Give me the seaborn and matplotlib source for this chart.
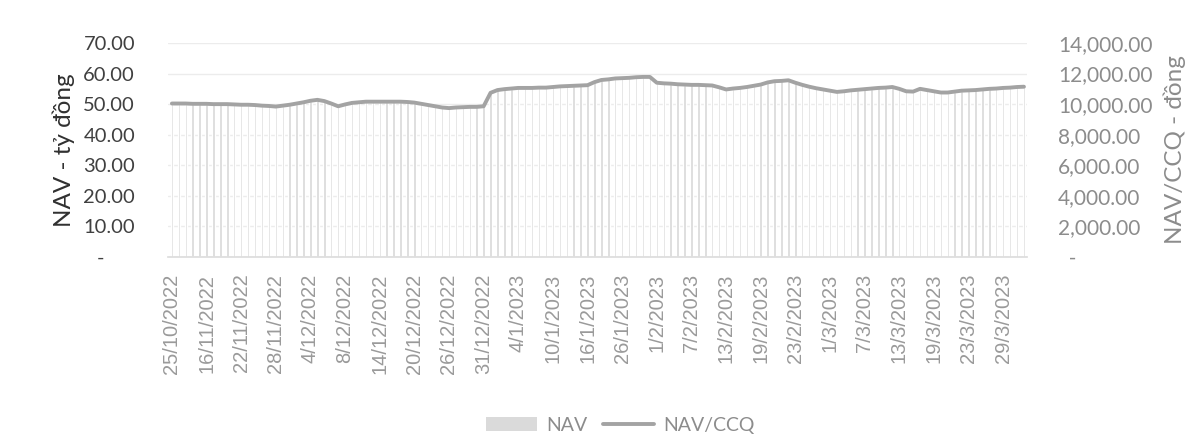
import numpy as np
import pandas as pd
import seaborn as sns
import matplotlib.pyplot as plt
from matplotlib.ticker import FuncFormatter
from matplotlib.patches import Patch
from matplotlib.lines import Line2D

# NAV (tỷ đồng) theo ngày
nav = [50.2, 50.2, 50.2, 50.1, 50.1, 50.1, 50.0, 50.0, 50.0, 49.9,
       49.8, 49.8, 49.7, 49.5, 49.4, 49.2, 49.5, 49.8, 50.2, 50.6,
       51.1, 51.4, 51.0, 50.2, 49.3, 49.9, 50.4, 50.6, 50.8, 50.8,
       50.8, 50.8, 50.8, 50.8, 50.7, 50.5, 50.1, 49.7, 49.3, 48.9,
       48.7, 48.9, 49.0, 49.1, 49.1, 49.3, 53.7, 54.6, 54.9, 55.1,
       55.3, 55.3, 55.3, 55.4, 55.4, 55.6, 55.8, 55.9, 56.0, 56.1,
       56.2, 57.2, 57.9, 58.1, 58.4, 58.5, 58.6, 58.8, 58.9, 58.9,
       57.0, 56.8, 56.7, 56.5, 56.4, 56.3, 56.3, 56.2, 56.1, 55.5,
       54.8, 55.1, 55.3, 55.6, 56.0, 56.4, 57.1, 57.5, 57.6, 57.8,
       57.0, 56.3, 55.7, 55.2, 54.8, 54.4, 54.0, 54.2, 54.5, 54.7,
       54.9, 55.1, 55.3, 55.4, 55.6, 55.0, 54.2, 54.1, 55.0, 54.6,
       54.2, 53.8, 53.8, 54.1, 54.4, 54.5, 54.6, 54.8, 55.0, 55.1,
       55.3, 55.4, 55.6, 55.7]

# NAV/CCQ (đồng)
nav_ccq = [10040, 10040, 10040, 10020, 10020, 10020, 10000, 10000, 10000, 9980,
           9960, 9960, 9940, 9900, 9880, 9840, 9900, 9960, 10040, 10120,
           10220, 10280, 10200, 10040, 9860, 9980, 10080, 10120, 10160, 10160,
           10160, 10160, 10160, 10160, 10140, 10100, 10020, 9940, 9860, 9780,
           9740, 9780, 9800, 9820, 9820, 9860, 10740, 10920, 10980, 11020,
           11060, 11060, 11060, 11080, 11080, 11120, 11160, 11180, 11200, 11220,
           11240, 11440, 11580, 11620, 11680, 11700, 11720, 11760, 11780, 11780,
           11400, 11360, 11340, 11300, 11280, 11260, 11260, 11240, 11220, 11100,
           10960, 11020, 11060, 11120, 11200, 11280, 11420, 11500, 11520, 11560,
           11400, 11260, 11140, 11040, 10960, 10880, 10800, 10840, 10900, 10940,
           10980, 11020, 11060, 11080, 11120, 11000, 10840, 10820, 11000, 10920,
           10840, 10760, 10760, 10820, 10880, 10900, 10920, 10960, 11000, 11020,
           11060, 11080, 11120, 11140]

# nhãn trục hoành (cứ 5 điểm một nhãn)
tick_labels = ['25/10/2022', '16/11/2022', '22/11/2022', '28/11/2022', '4/12/2022',
               '8/12/2022', '14/12/2022', '20/12/2022', '26/12/2022', '31/12/2022',
               '4/1/2023', '10/1/2023', '16/1/2023', '26/1/2023', '1/2/2023',
               '7/2/2023', '13/2/2023', '19/2/2023', '23/2/2023', '1/3/2023',
               '7/3/2023', '13/3/2023', '19/3/2023', '23/3/2023', '29/3/2023']
label_step = 5

df = pd.DataFrame({'idx': range(len(nav)), 'NAV': nav, 'NAV/CCQ': nav_ccq})

sns.set_theme(style='white')
plt.rcParams['font.family'] = ['Lato', 'DejaVu Sans']

fig = plt.figure(figsize=(11.98, 4.36), dpi=100)
ax = fig.add_axes([0.1406, 0.4106, 0.7170, 0.4908])
ax2 = ax.twinx()

# cột NAV
sns.barplot(data=df, x='idx', y='NAV', ax=ax, color='#d8d8d8', width=0.35,
            saturation=1, zorder=2)
# đường NAV/CCQ
sns.lineplot(data=df, x='idx', y='NAV/CCQ', ax=ax2, color='#a3a3a3', linewidth=2.8)

ax.set_xlim(-0.5, len(nav) - 0.5)
ax.set_ylim(0, 70)
ax2.set_ylim(0, 14000)
ax.set_yticks(range(0, 71, 10))
ax2.set_yticks(range(0, 14001, 2000))

ax.yaxis.grid(True, color='#ececec', linewidth=1, zorder=0)
ax.set_axisbelow(True)

ax.yaxis.set_major_formatter(FuncFormatter(lambda v, p: '-      ' if v == 0 else f'{v:.2f}'))
ax2.yaxis.set_major_formatter(FuncFormatter(lambda v, p: '  -' if v == 0 else f'{v:,.2f}'))

ax.set_xticks(range(0, len(nav), label_step))
ax.set_xticklabels(tick_labels, rotation=90, fontsize=14.5, color='#9a9a9a',
                   family=['Liberation Sans'])
ax.tick_params(axis='x', length=0, pad=12)
ax.tick_params(axis='y', length=0, labelsize=14.5, labelcolor='#404040', pad=24)
ax2.tick_params(axis='y', length=0, labelsize=15, labelcolor='#8c8c8c', pad=22)

ax.set_xlabel('')
ax.set_ylabel('NAV - tỷ đồng', fontsize=17.5, color='#303030', labelpad=6)
ax2.set_ylabel('NAV/CCQ - đồng', fontsize=17.5, color='#8c8c8c', labelpad=8)

for a in (ax, ax2):
    for s in a.spines.values():
        s.set_visible(False)
ax.spines['bottom'].set_visible(True)
ax.spines['bottom'].set_color('#dddddd')

handles = [Patch(facecolor='#dadada', edgecolor='none', label='NAV'),
           Line2D([0], [0], color='#a3a3a3', linewidth=2.8, label='NAV/CCQ')]
fig.legend(handles=handles, loc='center', bbox_to_anchor=(0.518, 0.025), ncol=2,
           frameon=False, fontsize=14, labelcolor='#8c8c8c', handlelength=2.6,
           handletextpad=0.5, columnspacing=0.8)

fig.savefig('out.png', dpi=100)
